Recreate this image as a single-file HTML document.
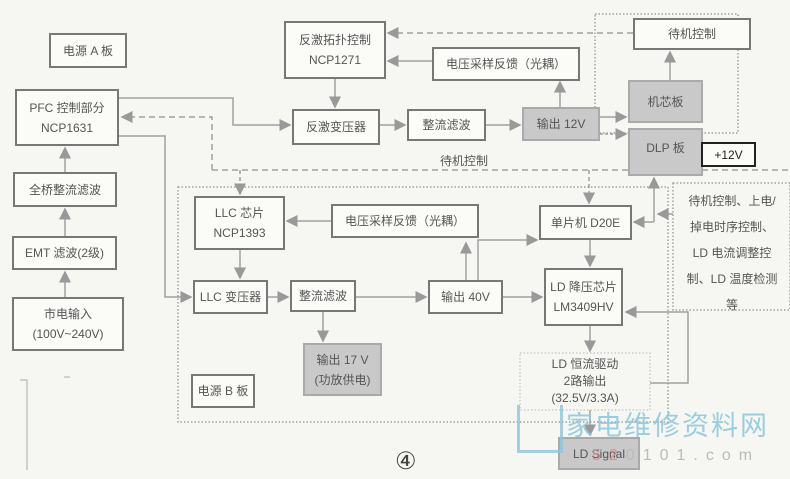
<!DOCTYPE html>
<html><head><meta charset="utf-8"><style>
body{margin:0;width:790px;height:479px;background:#f6f6f2;position:relative;overflow:hidden;font-family:"Liberation Sans","Noto Sans CJK SC",sans-serif;color:#555;}
.b{position:absolute;border:2px solid #777;background:#fbfbf8;box-sizing:border-box;display:flex;flex-direction:column;align-items:center;justify-content:center;font-size:12px;line-height:20px;text-align:center;white-space:nowrap;}
.g{background:#c9c9c9;border-color:#aaa;}
svg{position:absolute;left:0;top:0}
</style></head><body>
<svg width="790" height="479">
<defs><marker id="a" markerWidth="8" markerHeight="8" refX="7" refY="4" orient="auto"><path d="M0,0L8,4L0,8z" fill="#999"/></marker></defs>
<g stroke="#a0a0a0" stroke-width="1.5" fill="none">
<rect x="595" y="14" width="143" height="119" stroke-dasharray="1.5 2"/>
<rect x="178" y="187" width="490" height="235" stroke-dasharray="1.5 2"/>
<rect x="673" y="183" width="117" height="127" stroke-dasharray="1.5 2"/>
<rect x="520" y="353" width="130" height="57" stroke-dasharray="1.5 2" stroke="#ccc"/>
<path d="M633,33H388" stroke-dasharray="6 4" marker-end="url(#a)"/>
<path d="M432,61H388" marker-end="url(#a)"/>
<path d="M335,79V107" marker-end="url(#a)"/>
<path d="M119,98H233V125H290" marker-end="url(#a)"/>
<path d="M212,170V117H122" stroke-dasharray="6 4" marker-end="url(#a)"/>
<path d="M212,170H790" stroke-dasharray="6 4"/>
<path d="M240,170V194" stroke-dasharray="4 3" marker-end="url(#a)"/>
<path d="M589,170V203" stroke-dasharray="4 3" marker-end="url(#a)"/>
<path d="M119,136H165V297H191" marker-end="url(#a)"/>
<path d="M65,172V148" marker-end="url(#a)"/>
<path d="M65,236V209" marker-end="url(#a)"/>
<path d="M65,297V272" marker-end="url(#a)"/>
<path d="M380,125H405" marker-end="url(#a)"/>
<path d="M486,125H520" marker-end="url(#a)"/>
<path d="M560,107V82" marker-end="url(#a)"/>
<path d="M600,117H626" marker-end="url(#a)"/>
<path d="M600,134H626" stroke-dasharray="3 2" marker-end="url(#a)"/>
<path d="M670,80V52" marker-end="url(#a)"/>
<path d="M331,221H287" marker-end="url(#a)"/>
<path d="M240,250V278" marker-end="url(#a)"/>
<path d="M268,297H288" marker-end="url(#a)"/>
<path d="M356,297H426" marker-end="url(#a)"/>
<path d="M503,297H542" marker-end="url(#a)"/>
<path d="M323,312V341" marker-end="url(#a)"/>
<path d="M466,280V243" marker-end="url(#a)"/>
<path d="M478,280V240H537" marker-end="url(#a)"/>
<path d="M590,240V266" marker-end="url(#a)"/>
<path d="M654,222H634" marker-end="url(#a)"/>
<path d="M654,222V178" marker-end="url(#a)"/>
<path d="M673,214H658" marker-end="url(#a)"/>
<path d="M590,326V351" marker-end="url(#a)"/>
<path d="M650,383H688V312H626" marker-end="url(#a)"/>
<path d="M590,410V435" marker-end="url(#a)"/>
</g>
<path d="M20,380H27V470 M64,377H70" stroke="#aaa" fill="none"/>
</svg>
<div class="b" style="left:49px;top:33px;width:78px;height:35px">电源 A 板</div>
<div class="b" style="left:15px;top:89px;width:104px;height:57px">PFC 控制部分<br>NCP1631</div>
<div class="b" style="left:13px;top:172px;width:104px;height:35px">全桥整流滤波</div>
<div class="b" style="left:12px;top:236px;width:105px;height:34px">EMT 滤波(2级)</div>
<div class="b" style="left:12px;top:297px;width:112px;height:54px">市电输入<br>(100V~240V)</div>
<div class="b" style="left:284px;top:21px;width:102px;height:58px">反激拓扑控制<br>NCP1271</div>
<div class="b" style="left:292px;top:109px;width:88px;height:36px">反激变压器</div>
<div class="b" style="left:432px;top:47px;width:148px;height:34px">电压采样反馈（光耦）</div>
<div class="b" style="left:407px;top:109px;width:79px;height:32px">整流滤波</div>
<div class="b g" style="left:522px;top:107px;width:78px;height:34px">输出 12V</div>
<div class="b" style="left:633px;top:18px;width:118px;height:32px">待机控制</div>
<div class="b g" style="left:628px;top:80px;width:75px;height:43px">机芯板</div>
<div class="b g" style="left:628px;top:128px;width:75px;height:48px;justify-content:flex-start;padding-top:8px">DLP 板</div>
<div class="b" style="left:701px;top:142px;width:55px;height:25px;border:2.5px solid #222;color:#222">+12V</div>
<div style="position:absolute;left:440px;top:152px;font-size:12px">待机控制</div>
<div class="b" style="left:194px;top:196px;width:91px;height:54px">LLC 芯片<br>NCP1393</div>
<div class="b" style="left:331px;top:204px;width:148px;height:34px">电压采样反馈（光耦）</div>
<div class="b" style="left:539px;top:205px;width:93px;height:35px">单片机 D20E</div>
<div style="position:absolute;left:682px;top:188px;width:100px;font-size:12px;line-height:26px;text-align:center">待机控制、上电/<br>掉电时序控制、<br>LD 电流调整控<br>制、LD 温度检测<br>等</div>
<div class="b" style="left:193px;top:280px;width:75px;height:34px">LLC 变压器</div>
<div class="b" style="left:290px;top:280px;width:66px;height:32px">整流滤波</div>
<div class="b" style="left:428px;top:280px;width:75px;height:34px">输出 40V</div>
<div class="b" style="left:544px;top:268px;width:79px;height:58px">LD 降压芯片<br>LM3409HV</div>
<div class="b g" style="left:303px;top:343px;width:79px;height:53px">输出 17 V<br>(功放供电)</div>
<div class="b" style="left:191px;top:374px;width:64px;height:34px">电源 B 板</div>
<div style="position:absolute;left:520px;top:356px;width:130px;font-size:12px;line-height:17px;text-align:center">LD 恒流驱动<br>2路输出<br>(32.5V/3.3A)</div>
<div class="b g" style="left:558px;top:437px;width:82px;height:33px">LD Signal</div>
<div style="position:absolute;left:395px;top:447px;font-size:24px;font-family:'Liberation Serif',serif;color:#444">④</div>
<div style="position:absolute;left:517px;top:405px;width:40px;height:45px;border:3px solid #8cc6dd;border-top:none;opacity:.8"></div>
<div style="position:absolute;left:566px;top:404px;font-size:27px;color:#8cc6dd;letter-spacing:2px;opacity:.85;white-space:nowrap">家电维修资料网</div>
<div style="position:absolute;left:592px;top:447px;font-size:16px;color:#bbb;letter-spacing:8px;white-space:nowrap"><span style="color:#e08a8a">52</span>0101.com</div>
</body></html>
